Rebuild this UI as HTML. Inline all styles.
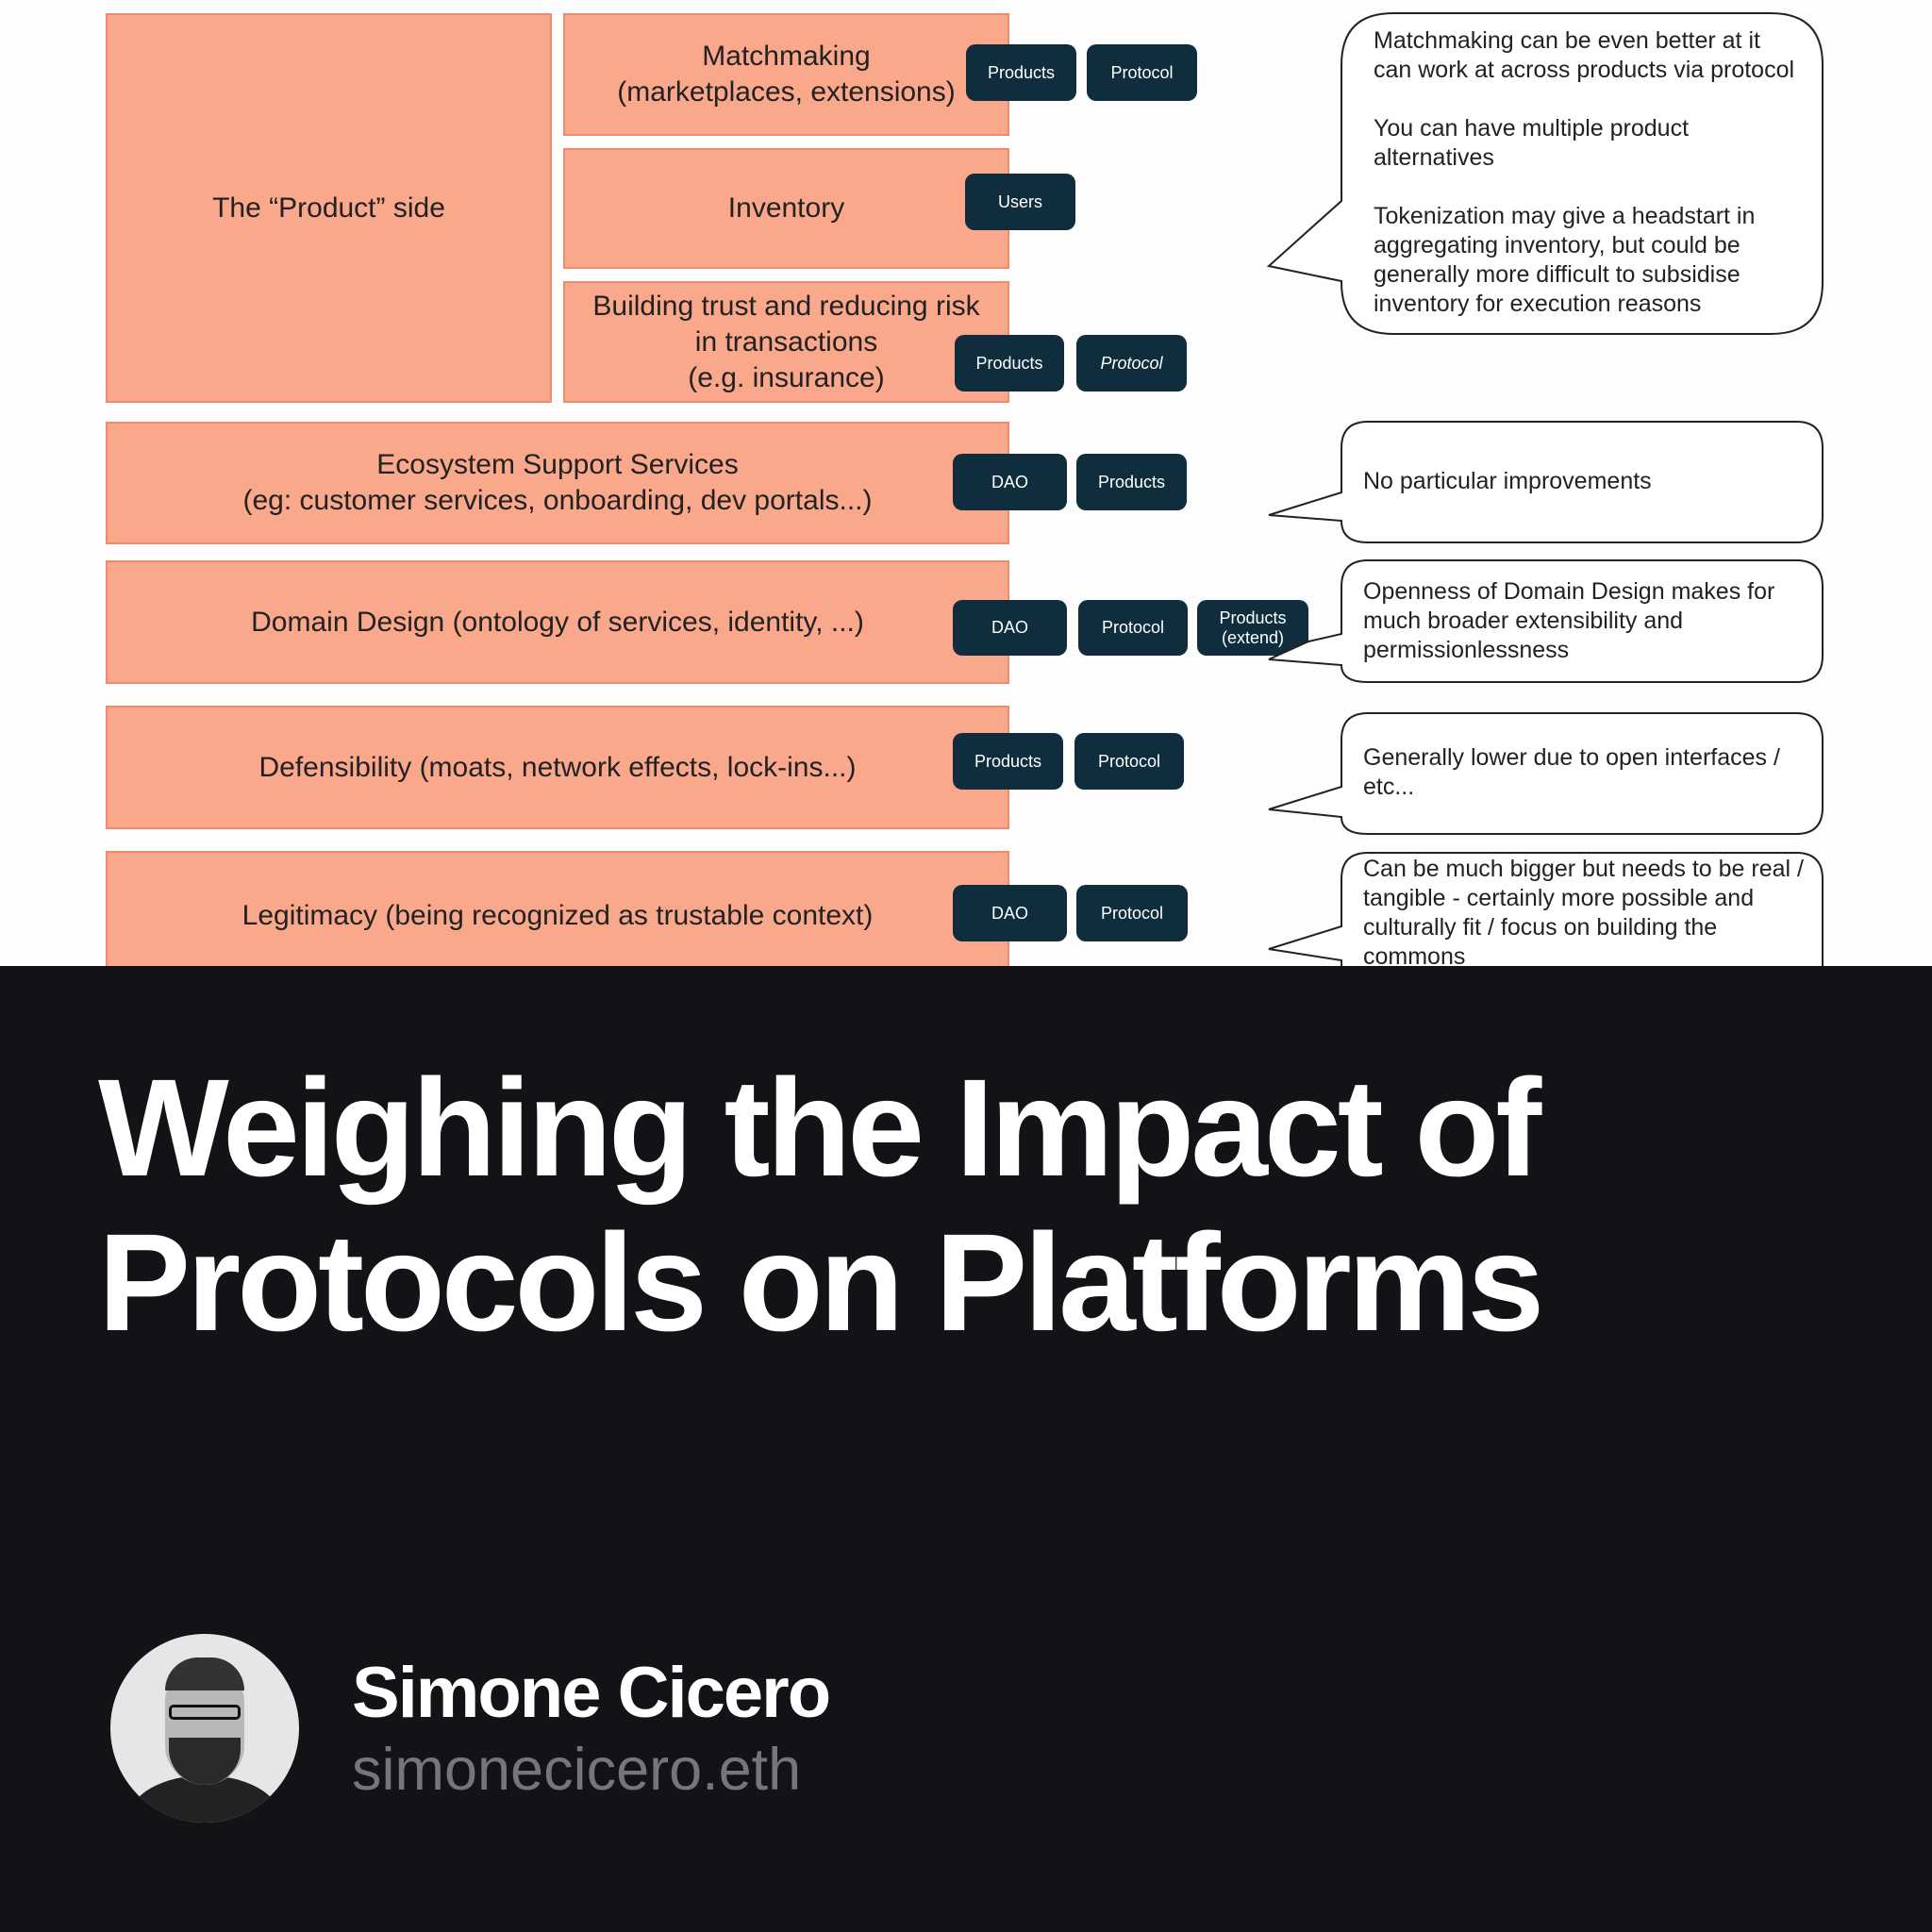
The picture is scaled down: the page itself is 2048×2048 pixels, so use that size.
<!DOCTYPE html>
<html><head><meta charset="utf-8"><style>
*{margin:0;padding:0;box-sizing:border-box}
body{width:2048px;height:2048px;position:relative;overflow:hidden;background:#131217;font-family:"Liberation Sans",sans-serif}
#top{position:absolute;left:0;top:0;width:2048px;height:1024px;background:#fdfdfd;overflow:hidden}
.box{position:absolute;background:#f9a88b;border:2px solid #ef8a6c;display:flex;align-items:center;justify-content:center;text-align:center;color:#222;font-size:30px;line-height:38px}
.pill{position:absolute;background:#0f2d3c;color:#fff;border-radius:10px;display:flex;align-items:center;justify-content:center;text-align:center;font-size:18px;line-height:21px}
.ct{position:absolute;color:#222;font-size:25px;line-height:31px}
h1{position:absolute;left:104px;top:1114px;color:#fff;font-size:147px;line-height:164px;font-weight:bold;letter-spacing:-4px;white-space:nowrap}
</style></head><body>
<div id="top">
<div class="box" style="left:112px;top:14px;width:473px;height:413px">The “Product” side</div>
<div class="box" style="left:597px;top:14px;width:473px;height:130px">Matchmaking<br>(marketplaces, extensions)</div>
<div class="box" style="left:597px;top:157px;width:473px;height:128px">Inventory</div>
<div class="box" style="left:597px;top:298px;width:473px;height:129px;align-items:flex-start;padding-top:6px">Building trust and reducing risk<br>in transactions<br>(e.g. insurance)</div>
<div class="box" style="left:112px;top:447px;width:958px;height:130px">Ecosystem Support Services<br>(eg: customer services, onboarding, dev portals...)</div>
<div class="box" style="left:112px;top:594px;width:958px;height:131px">Domain Design (ontology of services, identity, ...)</div>
<div class="box" style="left:112px;top:748px;width:958px;height:131px">Defensibility (moats, network effects, lock-ins...)</div>
<div class="box" style="left:112px;top:902px;width:958px;height:131px;align-items:flex-start;padding-top:48px">Legitimacy (being recognized as trustable context)</div>

<div class="pill" style="left:1024px;top:47px;width:117px;height:60px">Products</div>
<div class="pill" style="left:1152px;top:47px;width:117px;height:60px">Protocol</div>
<div class="pill" style="left:1023px;top:184px;width:117px;height:60px">Users</div>
<div class="pill" style="left:1012px;top:355px;width:116px;height:60px">Products</div>
<div class="pill" style="left:1141px;top:355px;width:117px;height:60px;font-style:italic">Protocol</div>
<div class="pill" style="left:1010px;top:481px;width:121px;height:60px">DAO</div>
<div class="pill" style="left:1141px;top:481px;width:117px;height:60px">Products</div>
<div class="pill" style="left:1010px;top:636px;width:121px;height:59px">DAO</div>
<div class="pill" style="left:1143px;top:636px;width:116px;height:59px">Protocol</div>
<div class="pill" style="left:1269px;top:636px;width:118px;height:59px">Products<br>(extend)</div>
<div class="pill" style="left:1010px;top:777px;width:117px;height:60px">Products</div>
<div class="pill" style="left:1139px;top:777px;width:116px;height:60px">Protocol</div>
<div class="pill" style="left:1010px;top:938px;width:121px;height:60px">DAO</div>
<div class="pill" style="left:1141px;top:938px;width:118px;height:60px">Protocol</div>

<svg width="2048" height="1024" style="position:absolute;left:0;top:0" fill="#fff" stroke="#222" stroke-width="2">
<path d="M1477,14 H1877 Q1932,14 1932,69 V299 Q1932,354 1877,354 H1477 Q1422,354 1422,299 V298 L1345,282 L1422,213 V69 Q1422,14 1477,14 Z"/>
<path d="M1450,447 H1904 Q1932,447 1932,475 V547 Q1932,575 1904,575 H1450 Q1422,575 1422,552 L1345,546 L1422,522 V475 Q1422,447 1450,447 Z"/>
<path d="M1450,594 H1904 Q1932,594 1932,622 V695 Q1932,723 1904,723 H1450 Q1422,723 1422,705 L1345,699 L1387,680 L1422,672 V622 Q1422,594 1450,594 Z"/>
<path d="M1450,756 H1904 Q1932,756 1932,784 V856 Q1932,884 1904,884 H1450 Q1422,884 1422,866 L1345,858 L1422,834 V784 Q1422,756 1450,756 Z"/>
<path d="M1450,904 H1904 Q1932,904 1932,932 V1060 H1422 V1018 L1345,1006 L1422,982 V932 Q1422,904 1450,904 Z"/>
</svg>
<div class="ct" style="left:1456px;top:28px">Matchmaking can be even better at it<br>can work at across products via protocol<br><br style="line-height:20px">You can have multiple product<br>alternatives<br><br style="line-height:20px">Tokenization may give a headstart in<br>aggregating inventory, but could be<br>generally more difficult to subsidise<br>inventory for execution reasons</div>
<div class="ct" style="left:1445px;top:495px">No particular improvements</div>
<div class="ct" style="left:1445px;top:612px">Openness of Domain Design makes for<br>much broader extensibility and<br>permissionlessness</div>
<div class="ct" style="left:1445px;top:788px">Generally lower due to open interfaces /<br>etc...</div>
<div class="ct" style="left:1445px;top:906px">Can be much bigger but needs to be real /<br>tangible - certainly more possible and<br>culturally fit / focus on building the<br>commons</div>
</div>
<h1>Weighing the Impact of<br>Protocols on Platforms</h1>
<div style="position:absolute;left:117px;top:1732px;width:200px;height:200px;border-radius:50%;background:#e6e6e6;overflow:hidden">
<div style="position:absolute;left:20px;top:150px;width:160px;height:90px;border-radius:50%;background:#222"></div>
<div style="position:absolute;left:58px;top:30px;width:84px;height:130px;border-radius:42px;background:#b8b8b8"></div>
<div style="position:absolute;left:58px;top:25px;width:84px;height:35px;border-radius:40px 40px 0 0;background:#333"></div>
<div style="position:absolute;left:62px;top:110px;width:76px;height:50px;border-radius:0 0 38px 38px;background:#2a2a2a"></div>
<div style="position:absolute;left:62px;top:75px;width:76px;height:16px;border:3px solid #111;border-radius:5px"></div>
</div>
<div style="position:absolute;left:373px;top:1750px;color:#fff;font-size:76px;font-weight:bold;letter-spacing:-2px;line-height:90px">Simone Cicero</div>
<div style="position:absolute;left:373px;top:1838px;color:#75757b;font-size:63px;line-height:76px">simonecicero.eth</div>
</body></html>
